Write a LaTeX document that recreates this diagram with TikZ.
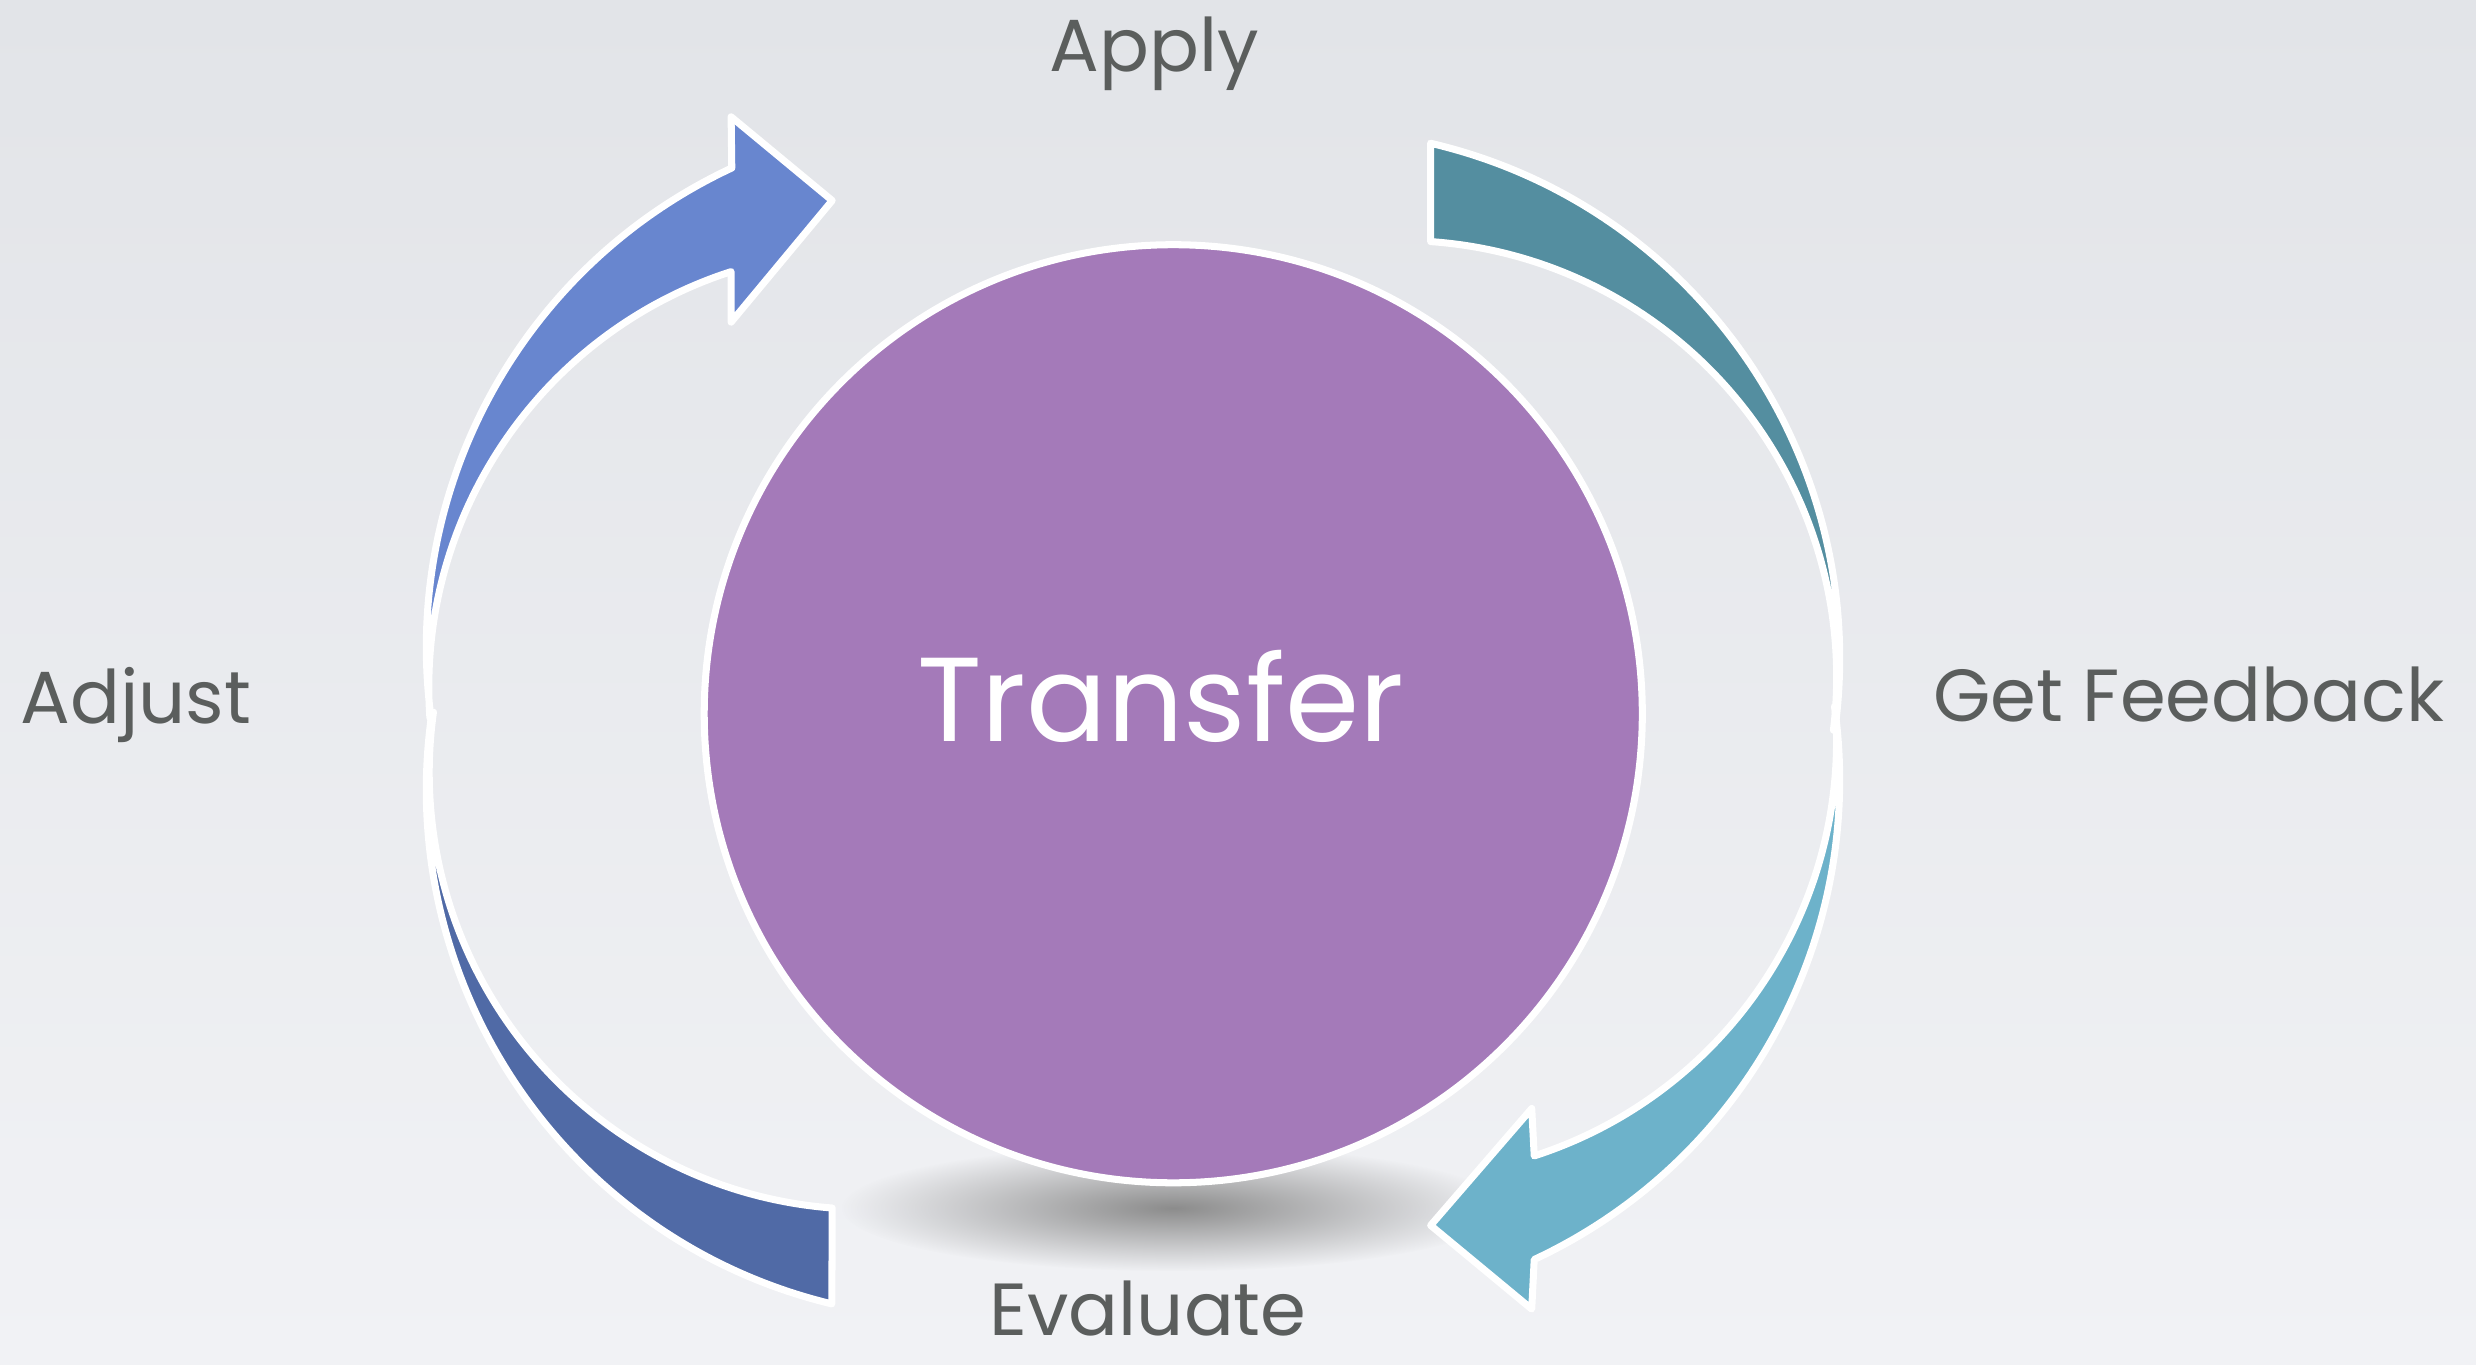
\documentclass[tikz,border=0pt]{standalone}
\usepackage{fontspec}
\setmainfont{Poppins}
\usetikzlibrary{fadings}

\definecolor{bgtop}{HTML}{E2E4E8}
\definecolor{bgbot}{HTML}{F1F2F5}
\definecolor{hubcol}{HTML}{A47AB9}
\definecolor{applycol}{HTML}{6886CF}
\definecolor{adjustcol}{HTML}{506AA6}
\definecolor{feedcol}{HTML}{548EA0}
\definecolor{evalcol}{HTML}{6DB2CA}
\definecolor{labelcol}{HTML}{5B5E5D}
\tikzfading[name=hubfade, inner color=transparent!0, outer color=transparent!100]

\begin{document}
\begin{tikzpicture}[x=0.1579mm, y=-0.1579mm,
    ringarrow/.style={draw=white, line width=2pt, line join=round},
    cyclelabel/.style={text=labelcol, font=\fontsize{21}{25}\selectfont, anchor=base, inner sep=1pt}]
  \shade[top color=bgtop, bottom color=bgbot] (0,0) rectangle (1568,864);
  \useasboundingbox (0,0) rectangle (1568,864);

  % soft shadow below the hub
  \fill[black!45, path fading=hubfade] (743,765) ellipse (210 and 40);

  \node[circle, fill=hubcol, draw=white, line width=2pt, minimum size=93.8mm] (hub) at (743,452) {};
  \node[text=white, font=\fontsize{34}{38}\selectfont] (transfer) at (735,441) {Transfer};

  % arrows round the hub
  \draw[ringarrow, fill=applycol] ([shift={(172:335)}]605,410) arc[start angle=172, end angle=245, radius=335]
    -- (463,74) -- (527,127) -- (463,204) -- (463,172)
    arc[start angle=252.1, end angle=176, radius=276.4] -- cycle;
  \draw[ringarrow, fill=feedcol] ([shift={(7:335)}]830,417) arc[start angle=7, end angle=-76.9, radius=335]
    -- (906,153)
    arc[start angle=-86, end angle=7, radius=276.4] -- cycle;
  \draw[ringarrow, fill=evalcol] ([shift={(352:335)}]830,494) arc[start angle=352, end angle=425, radius=335]
    -- (970,829) -- (906,776) -- (970,702) -- (971.6,732)
    arc[start angle=72.1, end angle=-4, radius=276.4] -- cycle;
  \draw[ringarrow, fill=adjustcol] ([shift={(188:335)}]605,500) arc[start angle=188, end angle=103.5, radius=335]
    -- (527,765)
    arc[start angle=94.4, end angle=188, radius=276.4] -- cycle;

  \node[cyclelabel] (apply) at (731,45) {Apply};
  \node[cyclelabel] (feedback) at (1386,457) {Get Feedback};
  \node[cyclelabel] (evaluate) at (727,846) {Evaluate};
  \node[cyclelabel] (adjust) at (86,458) {Adjust};
\end{tikzpicture}
\end{document}
